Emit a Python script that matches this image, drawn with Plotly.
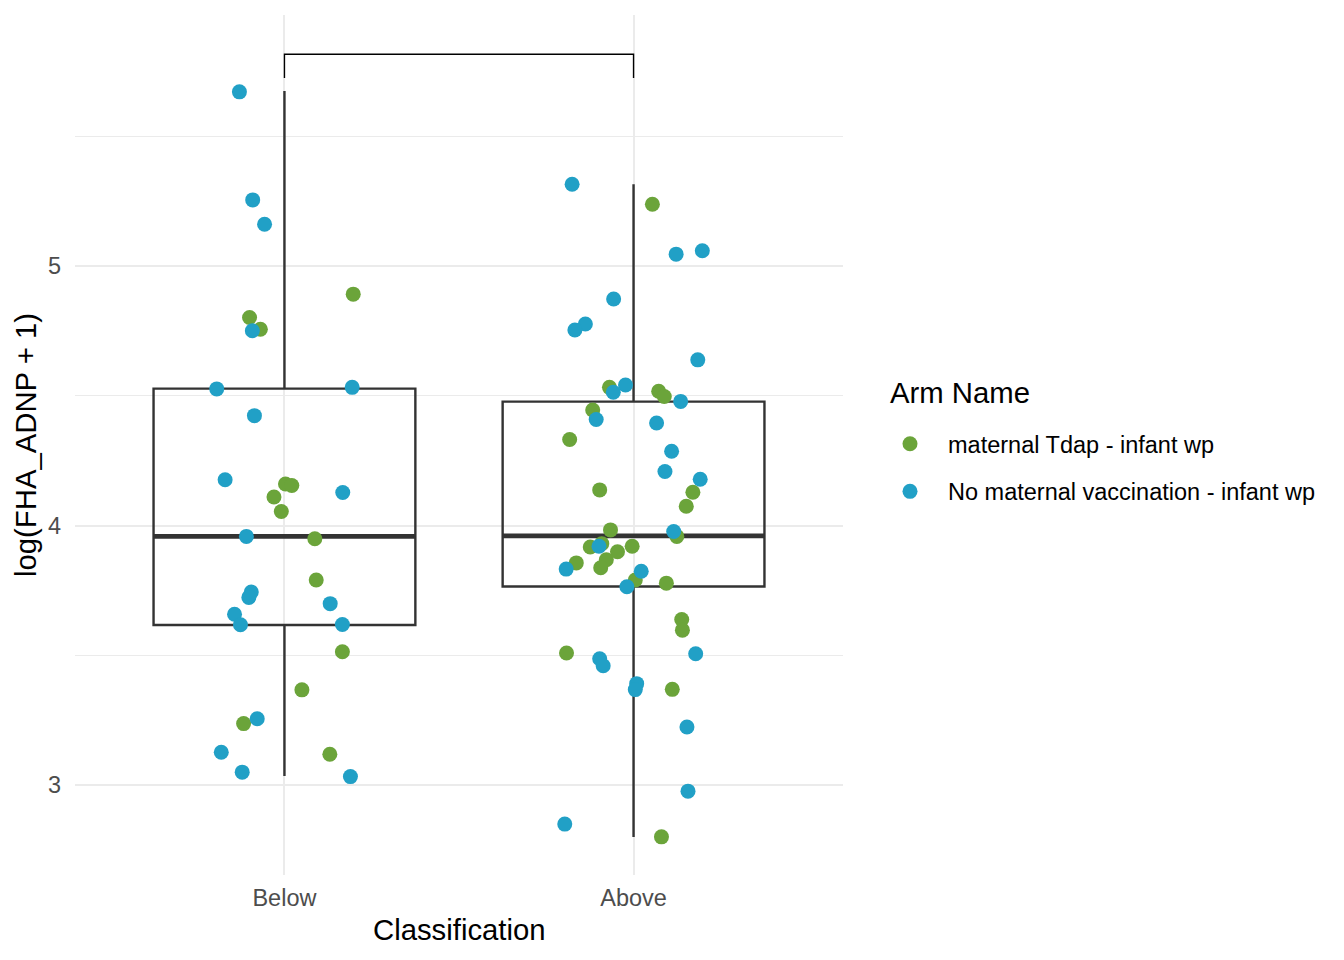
import plotly.graph_objects as go

categories = ["Below", "Above"]
cat_pos = [1, 2]
arm_names = ["maternal Tdap - infant wp", "No maternal vaccination - infant wp"]
arm_colors = ["#6BA43A", "#21A0C6"]

# Jittered points: (offset from category centre, value)
below_green_jit = [0.197, -0.100, -0.069, 0.003, 0.021, -0.030, -0.009, 0.087, 0.091, 0.166, 0.050, -0.117, 0.130]
below_green_y = [4.891, 4.801, 4.756, 4.160, 4.154, 4.110, 4.054, 3.949, 3.790, 3.514, 3.367, 3.237, 3.119]

below_blue_jit = [-0.129, -0.091, -0.057, -0.092, -0.194, 0.194, -0.086, -0.170, 0.167, -0.109,
                  -0.095, -0.102, 0.131, -0.143, -0.126, 0.166, -0.078, -0.181, -0.121, 0.189]
below_blue_y = [5.670, 5.254, 5.160, 4.750, 4.526, 4.532, 4.423, 4.176, 4.127, 3.958,
                3.744, 3.723, 3.699, 3.658, 3.618, 3.619, 3.256, 3.127, 3.050, 3.033]

above_green_jit = [0.054, -0.069, 0.072, 0.088, -0.117, -0.183, -0.097, 0.170, 0.151, -0.066,
                   0.124, -0.091, -0.124, -0.004, -0.046, -0.078, -0.164, -0.094, 0.005, 0.094,
                   0.138, 0.140, -0.192, 0.111, 0.080]
above_green_y = [5.237, 4.532, 4.517, 4.497, 4.445, 4.331, 4.137, 4.128, 4.074, 3.983,
                 3.958, 3.930, 3.917, 3.920, 3.899, 3.868, 3.856, 3.837, 3.790, 3.778,
                 3.638, 3.597, 3.509, 3.369, 2.801]

above_blue_jit = [-0.176, 0.122, 0.197, -0.057, -0.138, -0.168, 0.184, -0.023, -0.058, 0.135,
                  -0.107, 0.066, 0.109, 0.090, 0.191, 0.115, -0.099, -0.193, 0.022, -0.019,
                  0.178, -0.097, -0.087, 0.009, 0.005, 0.153, 0.156, -0.197]
above_blue_y = [5.314, 5.045, 5.058, 4.872, 4.776, 4.753, 4.638, 4.541, 4.513, 4.478,
                4.408, 4.395, 4.286, 4.208, 4.178, 3.977, 3.920, 3.832, 3.824, 3.764,
                3.506, 3.487, 3.460, 3.391, 3.368, 3.224, 2.977, 2.850]

# Box statistics per category
box_q1 = [3.617, 3.765]
box_median = [3.958, 3.960]
box_q3 = [4.527, 4.477]
box_lower = [3.035, 2.800]
box_upper = [5.673, 5.314]
box_width = 0.75

# Significance bracket
bracket_level = 5.815
bracket_tip = 0.092

y_ticks = [3, 4, 5]

FONT = "Liberation Sans, Arial, sans-serif"
LINE = "#333333"

fig = go.Figure()

fig.add_trace(go.Box(
    x=cat_pos, q1=box_q1, median=box_median, q3=box_q3,
    lowerfence=box_lower, upperfence=box_upper,
    width=box_width, whiskerwidth=0, boxpoints=False,
    fillcolor="rgba(0,0,0,0)", line=dict(color=LINE, width=2.4),
    showlegend=False, hoverinfo="skip",
))

# thicker median line (ggplot fatten)
med_x, med_y = [], []
for p, m in zip(cat_pos, box_median):
    med_x += [p - box_width / 2, p + box_width / 2, None]
    med_y += [m, m, None]
fig.add_trace(go.Scatter(x=med_x, y=med_y, mode="lines",
                         line=dict(color=LINE, width=4.8), showlegend=False, hoverinfo="skip"))

# points
groups = [
    (below_green_jit, below_green_y, 0, 0),
    (below_blue_jit, below_blue_y, 0, 1),
    (above_green_jit, above_green_y, 1, 0),
    (above_blue_jit, above_blue_y, 1, 1),
]
shown = set()
for jit, ys, ci, ai in groups:
    xs = [cat_pos[ci] + j for j in jit]
    fig.add_trace(go.Scatter(
        x=xs, y=ys, mode="markers",
        marker=dict(color=arm_colors[ai], size=15, line=dict(width=0)),
        name=arm_names[ai], legendgroup=arm_names[ai],
        legendrank=ai + 1,
        showlegend=ai not in shown,
    ))
    shown.add(ai)

# bracket
bx = [cat_pos[0], cat_pos[0], cat_pos[1], cat_pos[1]]
by = [bracket_level - bracket_tip, bracket_level, bracket_level, bracket_level - bracket_tip]
fig.add_trace(go.Scatter(x=bx, y=by, mode="lines", line=dict(color="black", width=1.4),
                         showlegend=False, hoverinfo="skip"))

# plot area in page pixels: x 75..843, y 15..875 (page adds 8px body offset)
PL, PR, PT, PB = 75, 843, 15, 875
OFF = 8
W, H = 1344, 960


def px_x(x):
    return (x - PL) / (PR - PL)


def px_y(y):
    return (PB - y) / (PB - PT)


fig.update_layout(
    width=W, height=H,
    margin=dict(l=PL - OFF, r=W - PR + OFF, t=PT - OFF, b=H - PB + OFF),
    paper_bgcolor="white", plot_bgcolor="white",
    font=dict(family=FONT, color="black"),
    legend=dict(
        x=px_x(872), y=px_y(422), xref="paper", yref="paper", xanchor="left", yanchor="top",
        font=dict(size=23.5, color="black", family=FONT),
        itemwidth=66, tracegroupgap=14, traceorder="grouped",
        bgcolor="rgba(0,0,0,0)",
    ),
    annotations=[
        dict(text="Arm Name", xref="paper", yref="paper", x=px_x(888), y=px_y(393),
             xanchor="left", yanchor="middle", showarrow=False, font=dict(size=29.3, color="black")),
        dict(text="Classification", xref="paper", yref="paper", x=px_x(459), y=px_y(929),
             xanchor="center", yanchor="middle", showarrow=False, font=dict(size=29.3, color="black")),
        dict(text="log(FHA_ADNP + 1)", xref="paper", yref="paper", x=px_x(25), y=px_y(445),
             xanchor="center", yanchor="middle", textangle=-90, showarrow=False,
             font=dict(size=29.3, color="black")),
    ],
)

fig.update_xaxes(
    range=[0.4, 2.6], tickvals=cat_pos, ticktext=categories,
    showgrid=True, gridcolor="#EBEBEB", gridwidth=2, zeroline=False, showline=False,
    ticks="", tickfont=dict(size=23.5, color="#4D4D4D"), ticklabelstandoff=6,
)
fig.update_yaxes(
    range=[2.654, 5.966], tickvals=y_ticks,
    showgrid=True, gridcolor="#EBEBEB", gridwidth=2, zeroline=False, showline=False,
    minor=dict(dtick=0.5, tick0=0, showgrid=True, gridcolor="#EBEBEB", gridwidth=1),
    ticks="", tickfont=dict(size=23.5, color="#4D4D4D"), ticklabelstandoff=13,
)

fig.write_html("out.html")
